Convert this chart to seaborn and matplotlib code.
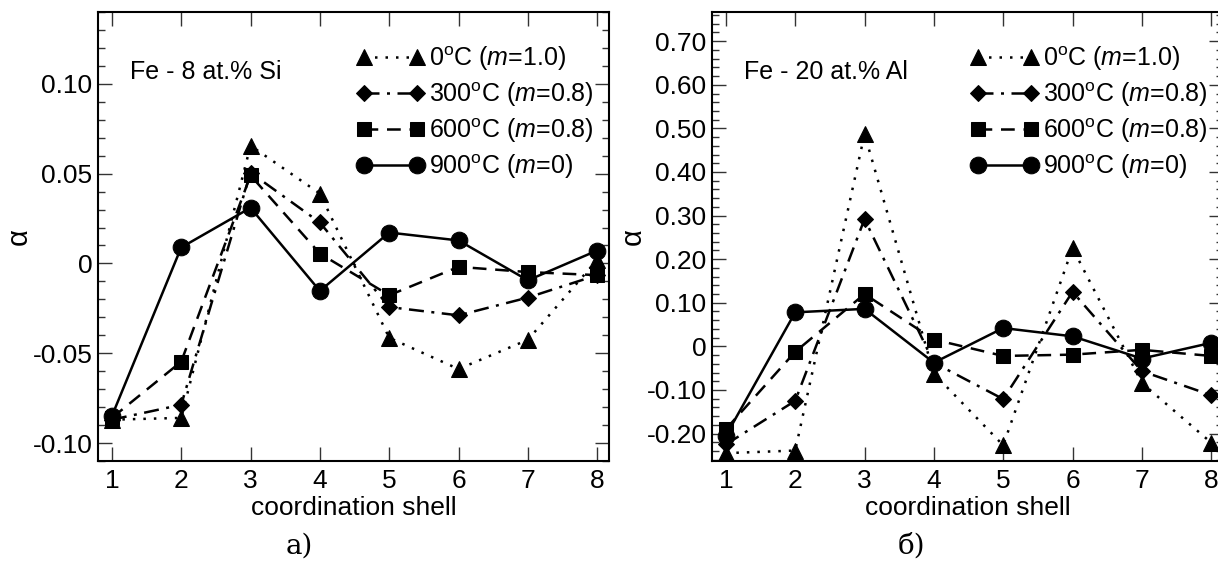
import numpy as np
import pandas as pd
import matplotlib
matplotlib.use("Agg")
import matplotlib.pyplot as plt
import seaborn as sns
from matplotlib.ticker import MultipleLocator, FixedLocator

sns.set_style("ticks")
plt.rcParams['font.family'] = ['Liberation Sans', 'DejaVu Sans']
plt.rcParams['mathtext.fontset'] = 'custom'
plt.rcParams['mathtext.rm'] = 'Liberation Sans'
plt.rcParams['mathtext.it'] = 'Liberation Sans:italic'
for k in ['text.color', 'axes.labelcolor', 'xtick.color', 'ytick.color', 'axes.edgecolor']:
    plt.rcParams[k] = 'black'

# data
shells = [1, 2, 3, 4, 5, 6, 7, 8]
labels = [r"0$^{\rm o}$C ($m$=1.0)", r"300$^{\rm o}$C ($m$=0.8)",
          r"600$^{\rm o}$C ($m$=0.8)", r"900$^{\rm o}$C ($m$=0)"]

si_0 = [-0.087, -0.086, 0.0656, 0.0389, -0.0414, -0.0588, -0.0425, 0.002]
si_300 = [-0.087, -0.0787, 0.0506, 0.0228, -0.0243, -0.0289, -0.019, -0.0065]
si_600 = [-0.086, -0.0547, 0.049, 0.0055, -0.0177, -0.0019, -0.0048, -0.0065]
si_900 = [-0.085, 0.0089, 0.031, -0.0153, 0.0172, 0.0128, -0.0094, 0.0072]

al_0 = [-0.245, -0.239, 0.487, -0.0625, -0.227, 0.2255, -0.084, -0.221]
al_300 = [-0.225, -0.125, 0.292, -0.0375, -0.121, 0.125, -0.057, -0.112]
al_600 = [-0.19, -0.0125, 0.12, 0.0156, -0.022, -0.019, -0.008, -0.022]
al_900 = [-0.205, 0.078, 0.086, -0.0375, 0.042, 0.023, -0.028, 0.008]

markers = dict(zip(labels, ["^", "D", "s", "o"]))
dashes = dict(zip(labels, [(1, 3.2), (6, 3, 1.2, 3), (5.5, 3.5), ""]))
msizes = [11, 8, 10, 12]


def make_df(series):
    rows = []
    for lab, vals in zip(labels, series):
        for s, v in zip(shells, vals):
            rows.append({"shell": s, "alpha": v, "T": lab})
    return pd.DataFrame(rows)


fig = plt.figure(figsize=(12.18, 5.61), dpi=100)
ax1 = fig.add_axes([98 / 1218, 1 - 461 / 561, 511 / 1218, 449 / 561])
ax2 = fig.add_axes([712 / 1218, 1 - 461 / 561, 511 / 1218, 449 / 561])

panels = [
    (ax1, [si_0, si_300, si_600, si_900], (-0.11, 0.14), 0.01,
     ["-0.10", "-0.05", "0", "0.05", "0.10"], "Fe - 8 at.% Si"),
    (ax2, [al_0, al_300, al_600, al_900], (-0.263, 0.767), 0.02,
     ["-0.20", "-0.10", "0", "0.10", "0.20", "0.30", "0.40", "0.50", "0.60", "0.70"],
     "Fe - 20 at.% Al"),
]

for ax, series, ylim, minor, yt, title in panels:
    df = make_df(series)
    sns.lineplot(data=df, x="shell", y="alpha", style="T", style_order=labels,
                 markers=markers, dashes=dashes, color="black", lw=1.8,
                 markeredgecolor="black", ax=ax, legend=False)
    for line, ms in zip(ax.lines, msizes):
        line.set_markersize(ms)
    ax.set_xlim(0.8, 8.17)
    ax.set_ylim(*ylim)
    ax.xaxis.set_major_locator(FixedLocator(shells))
    ax.yaxis.set_major_locator(FixedLocator([float(t) for t in yt]))
    ax.set_yticklabels(yt)
    ax.yaxis.set_minor_locator(MultipleLocator(minor))
    ax.tick_params(which="both", direction="in", top=True, right=True,
                   labelsize=19, width=1, color="#333333")
    ax.tick_params(which="major", length=10)
    ax.tick_params(axis="y", which="major", pad=4)
    ax.tick_params(axis="x", which="major", pad=6)
    ax.tick_params(which="minor", length=5)
    for sp in ax.spines.values():
        sp.set_linewidth(1.5)
    ax.set_xlabel("coordination shell", fontsize=19, labelpad=2)
    ax.set_ylabel("α", fontsize=21, va="center")
    ax.yaxis.set_label_coords(-0.156, 0.5)
    ax.text(0.063, 0.866, title, transform=ax.transAxes, fontsize=18,
            va="center", ha="left")
    ax.legend(ax.lines[:4], labels, loc="upper right", frameon=False,
              numpoints=2, fontsize=18, handlelength=2.7, handletextpad=0.2,
              labelspacing=0.3, borderaxespad=0.2, bbox_to_anchor=(1.0, 0.962))

fig.text(299 / 1218, 1 - 546 / 561, "a)", fontsize=20, family="DejaVu Serif",
         ha="center", va="center")
fig.text(911 / 1218, 1 - 546 / 561, "б)", fontsize=20, family="DejaVu Serif",
         ha="center", va="center")

fig.savefig("out.png", dpi=100)
